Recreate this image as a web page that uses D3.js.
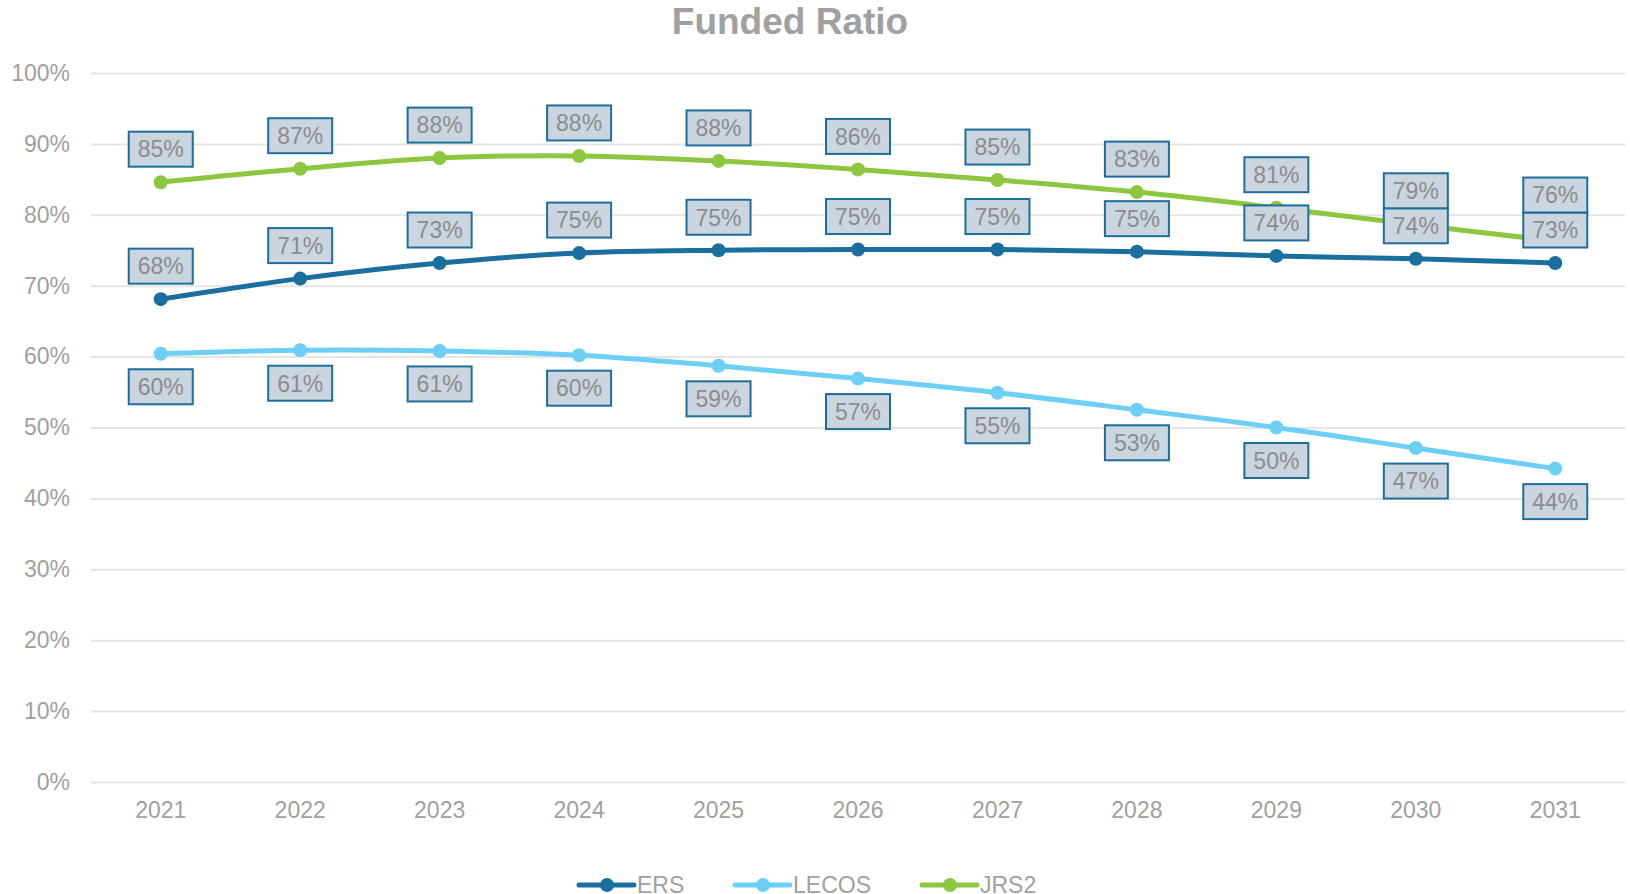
<!DOCTYPE html>
<html>
<head>
<meta charset="utf-8">
<script src="https://cdn.jsdelivr.net/npm/d3@7"></script>
<style>
  body { margin: 0; background: #fff; }
  text { font-family: "Liberation Sans", Arial, sans-serif; }
</style>
</head>
<body>
<div id="chart"></div>
<script>
// data
var years = ["2021", "2022", "2023", "2024", "2025", "2026", "2027", "2028", "2029", "2030", "2031"];
var ers = [68.1, 71.0, 73.2, 74.6, 75.0, 75.1, 75.1, 74.8, 74.2, 73.8, 73.2];
var lecos = [60.4, 60.9, 60.8, 60.2, 58.7, 56.9, 54.9, 52.5, 50.0, 47.1, 44.2];
var jrs2 = [84.6, 86.5, 88.0, 88.3, 87.6, 86.4, 84.9, 83.2, 81.0, 78.6, 76.3];
var yTicks = [0, 10, 20, 30, 40, 50, 60, 70, 80, 90, 100];

var series = [
  { name: "ERS", values: ers, color: "#1a6f9e", labelPos: "above" },
  { name: "LECOS", values: lecos, color: "#6dcff6", labelPos: "below" },
  { name: "JRS2", values: jrs2, color: "#8dc63f", labelPos: "above" }
];

var svgWidth = 1630;
var svgHeight = 894;
var margin = { top: 73, right: 5, bottom: 112, left: 91 };
var width = svgWidth - margin.left - margin.right;
var height = svgHeight - margin.top - margin.bottom;

var svg = d3.select("#chart")
  .append("svg")
  .attr("width", svgWidth)
  .attr("height", svgHeight);

// title
svg.append("text")
  .attr("x", 790)
  .attr("y", 34)
  .attr("text-anchor", "middle")
  .attr("font-size", "37px")
  .attr("font-weight", "bold")
  .attr("fill", "#a0a0a0")
  .text("Funded Ratio");

var chartGroup = svg.append("g")
  .attr("transform", "translate(" + margin.left + "," + margin.top + ")");

var xScale = d3.scaleBand()
  .domain(years)
  .range([0, width]);

var yScale = d3.scaleLinear()
  .domain([0, 100])
  .range([height, 0]);

function xPos(i) {
  return xScale(years[i]) + xScale.bandwidth() / 2;
}

// gridlines + y labels
var leftAxis = d3.axisLeft(yScale)
  .tickValues(yTicks)
  .tickSize(-width)
  .tickPadding(21)
  .tickFormat(function(d) { return d + "%"; });

var yAxis = chartGroup.append("g").call(leftAxis);
yAxis.select(".domain").remove();
yAxis.selectAll("line").attr("stroke", "#e5e5e5").attr("stroke-width", 2);
yAxis.selectAll("text")
  .attr("fill", "#a0a0a0")
  .attr("font-size", "23px")
  .attr("font-family", "Liberation Sans, Arial, sans-serif");

// x labels
var bottomAxis = d3.axisBottom(xScale).tickSize(0).tickPadding(20);
var xAxis = chartGroup.append("g")
  .attr("transform", "translate(0," + height + ")")
  .call(bottomAxis);
xAxis.select(".domain").remove();
xAxis.selectAll("text")
  .attr("fill", "#a0a0a0")
  .attr("font-size", "23px")
  .attr("font-family", "Liberation Sans, Arial, sans-serif");

var line = d3.line()
  .x(function(d, i) { return xPos(i); })
  .y(function(d) { return yScale(d); })
  .curve(d3.curveCatmullRom.alpha(0.5));

// lines and markers
series.forEach(function(s) {
  chartGroup.append("path")
    .datum(s.values)
    .attr("fill", "none")
    .attr("stroke", s.color)
    .attr("stroke-width", 5)
    .attr("stroke-linecap", "round")
    .attr("d", line);

  chartGroup.selectAll(null)
    .data(s.values)
    .enter()
    .append("circle")
    .attr("cx", function(d, i) { return xPos(i); })
    .attr("cy", function(d) { return yScale(d); })
    .attr("r", 7)
    .attr("fill", s.color);
});

// data labels
var boxW = 64, boxH = 35, offset = 33;

// label centre y for each series, pushing JRS2 up if it runs into the ERS box
function labelY(s, i) {
  var dy = s.labelPos === "above" ? -offset : offset;
  var y = yScale(s.values[i]) + dy;
  if (s.name === "JRS2") {
    var ersY = yScale(ers[i]) - offset;
    if (ersY - y < boxH) y = ersY - boxH;
  }
  return y;
}

series.forEach(function(s) {
  var g = chartGroup.selectAll(null)
    .data(s.values)
    .enter()
    .append("g")
    .attr("transform", function(d, i) {
      return "translate(" + xPos(i) + "," + labelY(s, i) + ")";
    });

  g.append("rect")
    .attr("x", -boxW / 2)
    .attr("y", -boxH / 2)
    .attr("width", boxW)
    .attr("height", boxH)
    .attr("fill", "#cad5e0")
    .attr("stroke", "#1e6e9c")
    .attr("stroke-width", 2);

  g.append("text")
    .attr("text-anchor", "middle")
    .attr("dy", "0.36em")
    .attr("font-size", "23px")
    .attr("fill", "#8c8c8c")
    .text(function(d) { return Math.round(d) + "%"; });
});

// legend
var legendItems = [
  { name: "ERS", color: "#1a6f9e", x: 579 },
  { name: "LECOS", color: "#6dcff6", x: 735 },
  { name: "JRS2", color: "#8dc63f", x: 922 }
];
var legendY = 885;
var legend = svg.append("g");
legendItems.forEach(function(item) {
  legend.append("line")
    .attr("x1", item.x)
    .attr("x2", item.x + 55)
    .attr("y1", legendY)
    .attr("y2", legendY)
    .attr("stroke", item.color)
    .attr("stroke-width", 5)
    .attr("stroke-linecap", "round");
  legend.append("circle")
    .attr("cx", item.x + 28)
    .attr("cy", legendY)
    .attr("r", 7)
    .attr("fill", item.color);
  legend.append("text")
    .attr("x", item.x + 58)
    .attr("y", legendY)
    .attr("dy", "0.36em")
    .attr("font-size", "23px")
    .attr("fill", "#a0a0a0")
    .text(item.name);
});
</script>
</body>
</html>
